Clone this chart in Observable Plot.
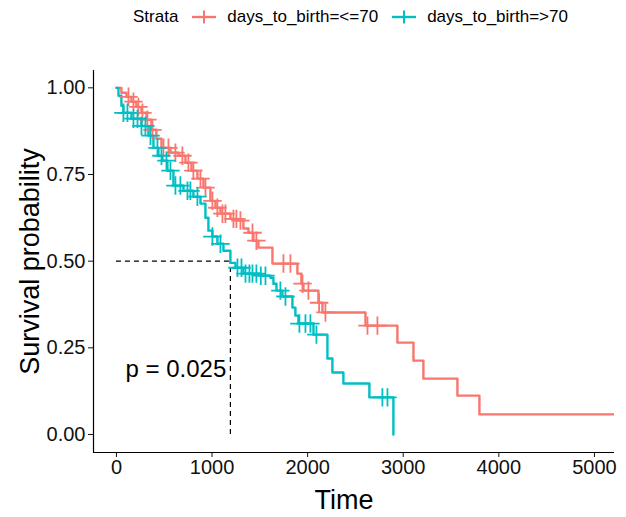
<!DOCTYPE html>
<html><head><meta charset="utf-8">
<script src="https://cdn.jsdelivr.net/npm/d3@7"></script>
<script src="https://cdn.jsdelivr.net/npm/@observablehq/plot@0.6"></script>
<style>
body{margin:0;background:#fff;font-family:"Liberation Sans",Arial,sans-serif}
#wrap{position:relative;width:626px;height:517px}
#legend{position:absolute;top:3px;left:133px;display:flex;align-items:center;font-size:17px;color:#000;height:28px;white-space:nowrap}
#legend .key{margin:0 11px 0 14px;display:block}
#legend .lab{margin-right:0px}
</style></head><body><div id="wrap"><div id="legend"></div></div>
<script>
// ---- data ----
const strata = ["days_to_birth=<=70", "days_to_birth=>70"];
const strataColors = ["#F8766D", "#00BFC4"];
const legendTitle = "Strata";

const lowTime = [0,52,105,157,209,262,314,366,418,471,565,649,722,785,847,910,983,1036,1088,1192,1276,1328,1381,1433,1485,1632,1893,1935,1956,2113,2155,2605,2939,3107,3211,3567,3797,5300];
const lowSurv = [1,0.986,0.974,0.960,0.945,0.928,0.908,0.879,0.853,0.827,0.813,0.804,0.784,0.761,0.738,0.712,0.674,0.654,0.637,0.622,0.617,0.594,0.582,0.559,0.539,0.493,0.464,0.435,0.415,0.380,0.352,0.314,0.265,0.213,0.161,0.112,0.058,0.058];
const lowCensor = [126,178,230,272,324,377,492,544,617,690,753,805,879,931,1004,1056,1109,1140,1224,1255,1297,1423,1464,1747,1820,1946,2008,2120,2186,2626,2730];

const highTime = [0,21,52,73,157,262,335,387,439,481,533,596,701,805,879,931,962,1004,1056,1119,1192,1245,1328,1506,1611,1642,1674,1736,1841,1872,1904,2061,2207,2259,2374,2646,2897];
const highSurv = [1,0.977,0.948,0.928,0.911,0.890,0.862,0.827,0.804,0.790,0.761,0.718,0.703,0.686,0.666,0.625,0.588,0.571,0.550,0.530,0.495,0.481,0.464,0.458,0.452,0.435,0.415,0.398,0.366,0.343,0.320,0.288,0.219,0.179,0.147,0.107,0];
const highCensor = [73,115,178,220,262,303,356,429,471,523,565,617,669,743,774,847,1004,1088,1266,1308,1350,1391,1423,1464,1510,1559,1715,1768,1914,1977,2029,2092,2782,2835];

const xTicks = [0,1000,2000,3000,4000,5000];
const yTicks = [0,0.25,0.5,0.75,1];
const xDomain = [-240, 5210];
const yDomain = [-0.052, 1.05];
const pLabel = "p = 0.025";
const pPos = {x: 95, y: 0.187};
const xTitle = "Time", yTitle = "Survival probability";

// ---- build tables ----
function survAt(times, surv, t) {
  let s = 1;
  for (let i = 0; i < times.length; i++) { if (times[i] <= t) s = surv[i]; else break; }
  return s;
}
const curves = [
  ...lowTime.map((t, i) => ({t, s: lowSurv[i], g: strata[0]})),
  ...highTime.map((t, i) => ({t, s: highSurv[i], g: strata[1]}))
];
const censors = [
  ...lowCensor.map(t => ({t, s: survAt(lowTime, lowSurv, t), g: strata[0]})),
  ...highCensor.map(t => ({t, s: survAt(highTime, highSurv, t), g: strata[1]}))
];
const medianHigh = highTime[highSurv.findIndex(s => s <= 0.5)];

// ---- legend ----
const leg = document.getElementById("legend");
const tspan = document.createElement("span"); tspan.textContent = legendTitle; leg.appendChild(tspan);
strata.forEach((name, i) => {
  const ns = "http://www.w3.org/2000/svg";
  const svg = document.createElementNS(ns, "svg");
  svg.setAttribute("width", 24); svg.setAttribute("height", 16); svg.setAttribute("class", "key");
  svg.innerHTML = `<line x1="0" x2="24" y1="8" y2="8" stroke="${strataColors[i]}" stroke-width="2.4"/>` +
                  `<line x1="12" x2="12" y1="1.5" y2="14.5" stroke="${strataColors[i]}" stroke-width="2"/>`;
  leg.appendChild(svg);
  const s = document.createElement("span"); s.className = "lab"; s.textContent = name; leg.appendChild(s);
});

// ---- plot ----
const chart = Plot.plot({
  width: 626, height: 517,
  marginTop: 70, marginRight: 12, marginBottom: 65, marginLeft: 93,
  style: {fontFamily: "Liberation Sans, Arial, sans-serif", background: "white", color: "#111"},
  x: {domain: xDomain},
  y: {domain: yDomain},
  color: {domain: strata, range: strataColors},
  marks: [
    Plot.ruleY([0.5], {x1: 0, x2: medianHigh, stroke: "black", strokeWidth: 1.2, strokeDasharray: "5,4"}),
    Plot.ruleX([medianHigh], {y1: 0, y2: 0.5, stroke: "black", strokeWidth: 1.2, strokeDasharray: "5,4"}),
    Plot.line(curves, {x: "t", y: "s", z: "g", stroke: "g", curve: "step-after", strokeWidth: 2.4, clip: true}),
    Plot.dot(censors, {x: "t", y: "s", stroke: "g", symbol: "plus", r: 6, strokeWidth: 1.8}),
    Plot.axisX({ticks: xTicks, tickFormat: d => String(d), tickSize: 5, tickPadding: 2, fontSize: 20, label: null}),
    Plot.axisY({ticks: yTicks, tickFormat: d3.format(".2f"), tickSize: 5, tickPadding: 3, fontSize: 20, label: null}),
    Plot.ruleX([xDomain[0]], {stroke: "black", strokeWidth: 1.2}),
    Plot.ruleY([yDomain[0]], {stroke: "black", strokeWidth: 1.2}),
    Plot.text([xTitle], {text: d => d, frameAnchor: "bottom", lineAnchor: "middle", textAnchor: "middle", dy: 48, dx: -10, fontSize: 27, fill: "black"}),
    Plot.text([yTitle], {text: d => d, frameAnchor: "left", lineAnchor: "middle", textAnchor: "middle", rotate: -90, dx: -63, fontSize: 27, fill: "black"}),
    Plot.text([pLabel], {text: d => d, x: pPos.x, y: pPos.y, textAnchor: "start", fontSize: 24, fill: "black"})
  ]
});
document.getElementById("wrap").insertBefore(chart, leg);
</script>
</body></html>
